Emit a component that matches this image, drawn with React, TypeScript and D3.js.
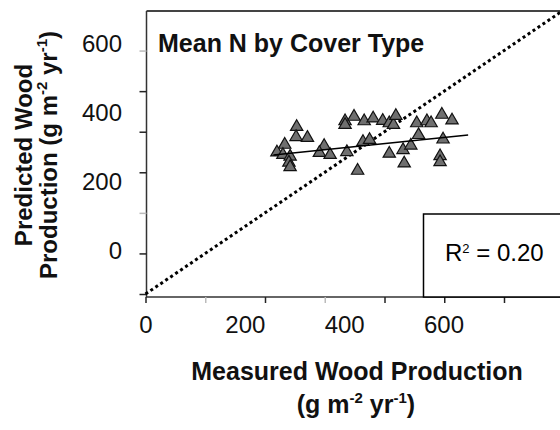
import React, { useEffect, useRef } from "react";
import * as d3 from "d3";

// measured vs predicted wood production (g m-2 yr-1)
const measured = [253, 252, 271, 233, 220, 230, 242, 240, 242, 299, 291, 309, 337, 355, 334, 334, 349, 366, 381, 397, 408, 415, 419, 364, 375, 408, 431, 444, 433, 457, 454, 471, 478, 496, 513, 498, 493, 493];
const predicted = [412, 387, 385, 368, 349, 343, 339, 324, 313, 365, 348, 343, 350, 304, 426, 417, 437, 426, 433, 427, 421, 417, 439, 375, 380, 346, 355, 366, 322, 392, 421, 426, 421, 442, 428, 381, 340, 325];

const xTickLabels = [0, 200, 400, 600];
const yTickLabels = [0, 200, 400, 600];
const tickValues = [0, 100, 200, 300, 400, 500, 600, 700];
const fadedXTicks = [100, 300];
const fadedYTicks = [200, 600];

// fitted line
const fitRange = [214, 540];
const fitIntercept = 310.3;
const fitSlope = 0.151;
const rSquared = "0.20";

const FONT = "'Liberation Sans', Arial, sans-serif";

export default function App() {
  const xAxisRef = useRef(null);
  const yAxisRef = useRef(null);

  const x = d3.scaleLinear().domain([0, 700]).range([145.5, 563.75]);
  const y = d3.scaleLinear().domain([0, 700]).range([294, 10]);
  // the tick labels were laid out on their own spacing in the original
  const xLab = d3.scaleLinear().domain([0, 600]).range([146, 444]);
  const yLab = d3.scaleLinear().domain([0, 600]).range([250, 43]);

  useEffect(() => {
    const gx = d3.select(xAxisRef.current);
    gx.selectAll("*").remove();
    gx.call(d3.axisBottom(x).tickValues(tickValues).tickSize(6).tickSizeOuter(0).tickFormat(() => ""));
    gx.select(".domain").remove();
    gx.selectAll(".tick line")
      .attr("stroke", (d) => (fadedXTicks.includes(d) ? "#bbb" : "#222"))
      .attr("stroke-width", 1.5);

    const gy = d3.select(yAxisRef.current);
    gy.selectAll("*").remove();
    gy.call(d3.axisLeft(y).tickValues(tickValues.slice(0, 7)).tickSize(7).tickSizeOuter(0).tickFormat(() => ""));
    gy.select(".domain").remove();
    gy.selectAll(".tick line")
      .attr("stroke", (d) => (fadedYTicks.includes(d) ? "#bbb" : "#222"))
      .attr("stroke-width", 1.5);
  }, []);

  const tri = d3.symbol().type(d3.symbolTriangle).size(66)();
  const fitLine = d3.line()
    .x((d) => x(d))
    .y((d) => y(fitIntercept + fitSlope * d))(fitRange);

  return (
    <svg width={560} height={430} style={{ position: "absolute", left: 0, top: 0, background: "#fff" }} fontFamily={FONT}>
      {/* frame */}
      <line x1={146.5} x2={560} y1={11} y2={11} stroke="#444" strokeWidth={2} />
      <line x1={146.5} x2={146.5} y1={11} y2={297} stroke="#333" strokeWidth={1.5} />
      <line x1={146} x2={560} y1={297} y2={297} stroke="#333" strokeWidth={1.5} />
      <g ref={xAxisRef} transform="translate(0,297)" />
      <g ref={yAxisRef} transform="translate(146.5,0)" />

      {/* 1:1 line */}
      <line x1={x(0)} y1={y(0)} x2={x(700)} y2={y(700)} stroke="#000" strokeWidth={3} strokeDasharray="3,3" />

      {/* R2 box */}
      <rect x={423.5} y={214} width={150} height={83} fill="#fff" stroke="#000" strokeWidth={1.5} />
      <text x={445} y={261} fontSize={24} fill="#000">
        R<tspan fontSize={13} dy={-8}>2</tspan><tspan dy={8}> = {rSquared}</tspan>
      </text>

      {/* points */}
      {measured.map((m, i) => (
        <path key={i} d={tri} transform={`translate(${x(m)},${y(predicted[i])})`} fill="#6f6f6f" stroke="#111" strokeWidth={1.2} />
      ))}
      <path d={fitLine} fill="none" stroke="#000" strokeWidth={1.5} />

      <text x={158} y={52} fontSize={25} fontWeight="bold" fill="#111">Mean N by Cover Type</text>

      {/* tick labels */}
      {xTickLabels.map((v) => (
        <text key={v} x={xLab(v)} y={333} fontSize={24} textAnchor="middle" fill="#111">{v}</text>
      ))}
      {yTickLabels.map((v) => (
        <text key={v} x={122} y={yLab(v)} dy="0.36em" fontSize={24} textAnchor="end" fill="#111">{v}</text>
      ))}

      {/* axis titles */}
      <text x={357} y={380} fontSize={25} fontWeight="bold" textAnchor="middle" fill="#111">Measured Wood Production</text>
      <text x={356} y={413} fontSize={25} fontWeight="bold" textAnchor="middle" fill="#111">
        (g m<tspan fontSize={15} dy={-10}>-2</tspan><tspan dy={10}> yr</tspan><tspan fontSize={15} dy={-10}>-1</tspan><tspan dy={10}>)</tspan>
      </text>
      <g transform="translate(32,155) rotate(-90)">
        <text x={0} y={0} fontSize={24} fontWeight="bold" textAnchor="middle" fill="#111">Predicted Wood</text>
        <text x={0} y={25} fontSize={24} fontWeight="bold" textAnchor="middle" fill="#111">
          Production (g m<tspan fontSize={15} dy={-10}>-2</tspan><tspan dy={10}> yr</tspan><tspan fontSize={15} dy={-10}>-1</tspan><tspan dy={10}>)</tspan>
        </text>
      </g>
    </svg>
  );
}
